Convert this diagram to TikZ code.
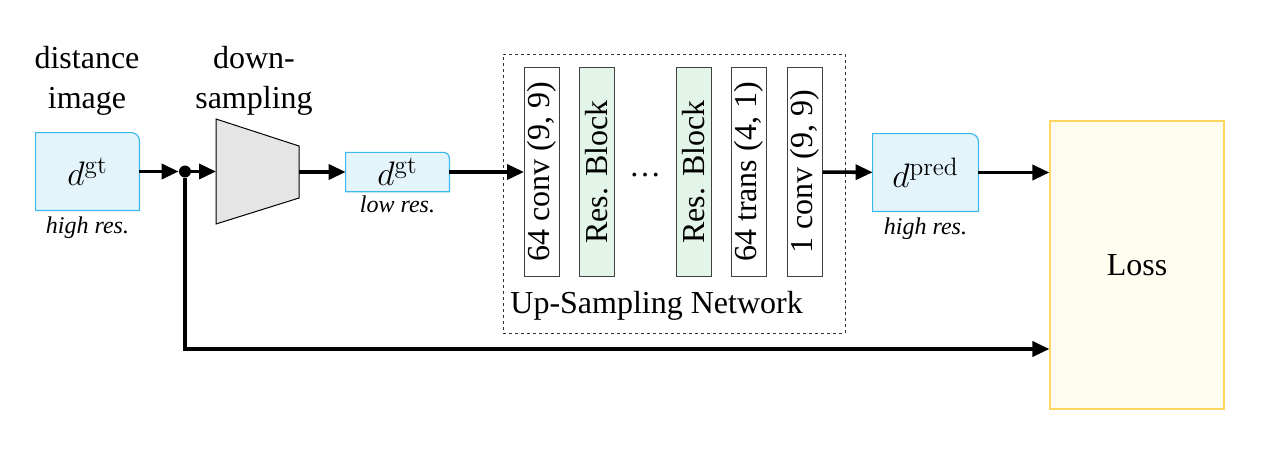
\documentclass[tikz,border=0pt]{standalone}
\usepackage{fix-cm}
\usepackage[no-math]{fontspec}
\setmainfont{Liberation Serif}
\usepackage{amsmath}
\usepackage{graphicx}
\usepackage{xcolor}
\usepackage{tikz}
\usetikzlibrary{arrows.meta}
\usetikzlibrary{positioning}
\usetikzlibrary{backgrounds}

\DeclareMathSizes{17}{17}{12.6}{9}

\definecolor{blaafyll}{HTML}{E4F4FB}
\definecolor{blaakant}{HTML}{3CB9EC}
\definecolor{groennfyll}{HTML}{E3F4E9}
\definecolor{gulfyll}{HTML}{FFFDF0}
\definecolor{gulkant}{HTML}{FFD75E}

\newcommand{\dataform}[2]{%
  \begin{scope}[on background layer, x=1cm, y=1cm]
    \draw[blaakant, fill=blaafyll, line width=0.6pt]
      (#1.south west) -- (#1.north west) -- ([xshift=-#2]#1.north east)
      arc[start angle=90, end angle=0, radius=#2] -- (#1.south east) -- cycle;
  \end{scope}
}

\begin{document}
\begin{tikzpicture}[
    x=0.5pt, y=-0.5pt,
    every node/.style={font=\fontsize{16}{20}\selectfont},
    pil/.style={line width=1.8pt, -{Triangle[length=8.5pt,width=7.5pt]}},
    databoks/.style={inner sep=0pt, font=\fontsize{17}{20}\selectfont},
    lag/.style={draw=black!75, line width=0.5pt, fill=white,
    minimum width=17.5pt, minimum height=104.5pt, inner sep=0pt},
    resblokk/.style={lag, fill=groennfyll},
    oppl/.style={font=\fontsize{12}{14}\selectfont\itshape, inner sep=1pt}
]
\useasboundingbox (0,0) rectangle (1277,466);

\node[align=center] (distlbl) at (87,81) {distance\\image};
\node[databoks, minimum width=51.5pt, minimum height=38.5pt] (gt) at (87.5,171.5) {$d^{\mathrm{gt}}$};
\dataform{gt}{4pt}
\node[oppl, below=2pt of gt] (gtres) {high res.};
\node[circle, fill=black, inner sep=0pt, minimum size=6pt] (split) at (185,171.5) {};

\node[align=center] (dslbl) at (254,81) {down-\\sampling};
\draw[fill=black!10, line width=0.5pt] (216,119) -- (299,146) -- (299,198) -- (216,224) -- cycle;
\coordinate (dsinn) at (216,171.5);
\coordinate (dsut) at (299,172);

\node[databoks, minimum width=51.5pt, minimum height=19.25pt] (gtlow) at (397.5,172) {$d^{\mathrm{gt}}$};
\dataform{gtlow}{3pt}
\node[oppl, below=1pt of gtlow] (lowres) {low res.};

\node[lag] (konv1) at (542,172) {\rotatebox{90}{64 conv (9, 9)}};
\node[resblokk] (res1) at (596.5,172) {\rotatebox{90}{Res. Block}};
\node[anchor=base] (prikker) at (645,176) {…};
\node[resblokk] (res2) at (694,172) {\rotatebox{90}{Res. Block}};
\node[lag] (trans) at (749,172) {\rotatebox{90}{64 trans (4, 1)}};
\node[lag] (konv2) at (804.5,172) {\rotatebox{90}{1 conv (9, 9)}};
\node[draw=black!80, dash pattern=on 1.5pt off 1.5pt, line width=0.5pt,
    minimum width=171pt, minimum height=139.5pt, inner sep=0pt] (oppnett) at (674,193.5) {};
\node[anchor=west, inner sep=0pt] (oppnettlbl) at (510,306) {Up-Sampling Network};

\node[databoks, minimum width=52.5pt, minimum height=38.5pt] (pred) at (925.5,172.5) {$d^{\mathrm{pred}}$};
\dataform{pred}{4pt}
\node[oppl, below=2pt of pred] (predres) {high res.};

\node[draw=gulkant, fill=gulfyll, line width=0.6pt, minimum width=87pt, minimum height=144pt] (loss) at (1137,265) {Loss};

\draw[pil] (gt) -- (split);
\draw[pil] (split) -- (dsinn);
\draw[pil] (dsut) -- (gtlow);
\draw[pil] (gtlow) -- (konv1);
\draw[pil] (konv2) -- (pred);
\draw[pil] (pred.east) -- (pred.east -| loss.west);
\draw[pil] (split) |- ([yshift=-42pt]loss.west);
\end{tikzpicture}
\end{document}
